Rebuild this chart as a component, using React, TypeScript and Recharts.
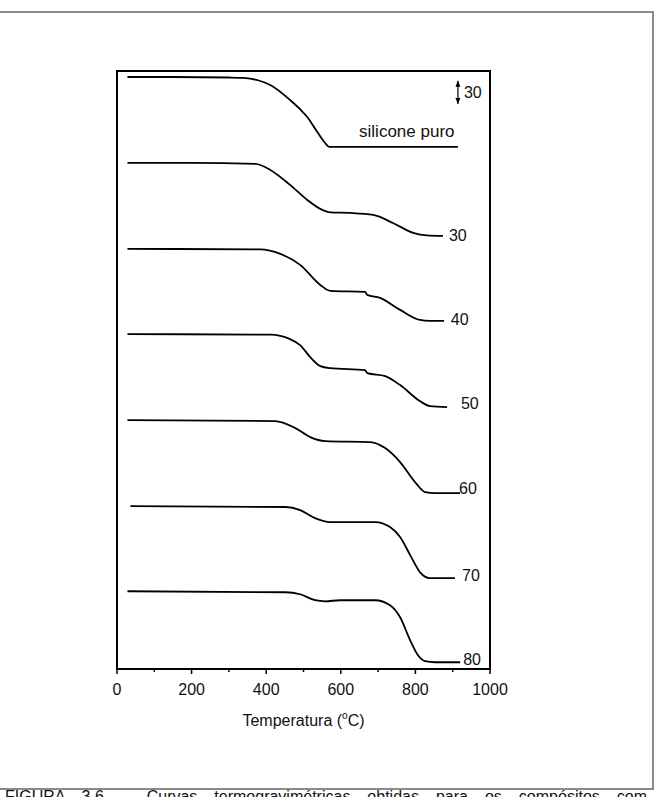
import React from 'react';
import { LineChart, Line, XAxis, YAxis, ReferenceArea, ReferenceDot } from 'recharts';

// temperaturas (°C) e perda de massa (%), uma curva por amostra
const tPuro = [28, 150, 300, 340, 380, 411, 464, 490, 510, 537, 558, 569, 590, 914];
const mPuro = [100, 100, 99.3, 98.7, 95.3, 89.3, 69.2, 57.2, 46.5, 26.4, 11.7, 6.4, 6.4, 6.4];

const t30 = [28, 200, 371, 411, 464, 510, 545, 572, 625, 687, 740, 794, 831, 874];
const m30 = [100, 100, 98.7, 90.6, 70.6, 50.5, 38.5, 33.8, 33.1, 30.4, 19.7, 6.4, 3.0, 2.3];

const t40 = [28, 384, 438, 491, 545, 572, 665, 671, 705, 759, 812, 839, 877];
const m40 = [100, 99.3, 93.3, 78.6, 51.8, 43.8, 42.5, 38.5, 34.5, 18.4, 5.0, 3.7, 3.7];

const t50 = [28, 411, 464, 491, 518, 545, 572, 665, 671, 719, 759, 812, 839, 885];
const m50 = [100, 99.3, 93.3, 85.3, 69.2, 57.2, 54.5, 51.8, 47.8, 43.8, 31.8, 10.4, 3.7, 2.3];

const t60 = [28, 424, 478, 518, 558, 679, 719, 759, 799, 826, 853, 920];
const m60 = [100, 98.7, 89.3, 77.3, 71.9, 70.6, 62.5, 43.8, 17.1, 3.7, 2.3, 2.3];

const t70 = [36, 451, 491, 531, 572, 692, 732, 759, 786, 812, 839, 906];
const m70 = [100, 98.7, 94.6, 83.9, 78.6, 78.6, 71.9, 58.5, 34.4, 11.7, 3.7, 3.7];

const t80 = [28, 451, 491, 531, 558, 598, 692, 732, 759, 786, 807, 826, 853, 920];
const m80 = [100, 98.7, 96.0, 88.0, 86.6, 88.0, 88.0, 81.3, 65.2, 34.4, 14.3, 6.4, 5.0, 5.0];

// deslocamento vertical de cada curva (unidades do eixo)
const offsets = [792, 677, 562, 448, 333, 218, 104];
const temps = [tPuro, t30, t40, t50, t60, t70, t80];
const masses = [mPuro, m30, m40, m50, m60, m70, m80];

// rótulos das curvas e barra de escala
const labelText = ['silicone puro', '30', '40', '50', '60', '70', '80', '30'];
const labelT = [649, 890, 895, 922, 917, 925, 928, 930];
const labelV = [712, 573, 460, 348, 234, 118, 5, 764];
const labelSize = [17, 16, 16, 16, 16, 16, 16, 16];

const scaleBar = [{ t: 914, v: 756 }, { t: 914, v: 787 }];

const xTicks = [0, 100, 200, 300, 400, 500, 600, 700, 800, 900, 1000];

const FONT = 'Liberation Sans, Arial, sans-serif';

const series = temps.map((ts, i) =>
  ts.map((t, j) => ({ t, v: offsets[i] + masses[i][j] - 100 }))
);

const Tick = (props: any) => {
  const { x, y, payload } = props;
  const major = payload.value % 200 === 0;
  return (
    <g>
      <line x1={x} y1={y} x2={x} y2={y + (major ? 5 : 3)} stroke="#000" strokeWidth={1.5} />
      {major && (
        <text x={x} y={y + 26} textAnchor="middle" fontSize={16} fontFamily={FONT} fill="#111">
          {payload.value}
        </text>
      )}
    </g>
  );
};

const ArrowHead = (props: any) => {
  const { cx, cy, index } = props;
  const d = index === 0 ? 1 : -1; // 0 = baixo, 1 = cima
  return (
    <path
      key={'h' + index}
      d={`M${cx - 2.5},${cy - 6 * d} L${cx + 2.5},${cy - 6 * d} L${cx},${cy} Z`}
      fill="#000"
    />
  );
};

const App: React.FC = () => {
  return (
    <div style={{ position: 'absolute', left: 0, top: 0, width: 654, height: 797, overflow: 'hidden', background: '#fff' }}>
      {/* moldura da página */}
      <div style={{ position: 'absolute', left: -10, top: 11, width: 660, height: 775, border: '2px solid #8a8a8a' }} />

      <div style={{ position: 'absolute', left: 0, top: 0 }}>
        <LineChart width={654} height={797} margin={{ top: 71, right: 164, bottom: 98, left: 117 }}>
          <XAxis
            dataKey="t"
            type="number"
            domain={[0, 1000]}
            ticks={xTicks}
            interval={0}
            height={30}
            tickSize={0}
            tickMargin={0}
            tickLine={false}
            axisLine={false}
            tick={<Tick />}
            allowDuplicatedCategory={false}
            label={{
              content: (p: any) => {
                const vb = p.viewBox;
                return (
                  <text x={vb.x + vb.width / 2} y={vb.y + 57} textAnchor="middle" fontSize={16} fontFamily={FONT} fill="#111">
                    Temperatura (
                    <tspan fontSize={10} dy={-7}>o</tspan>
                    <tspan dy={7}>C)</tspan>
                  </text>
                );
              }
            }}
          />
          <YAxis
            type="number"
            domain={[0, 800]}
            width={0}
            tick={false}
            tickLine={false}
            axisLine={false}
            label={{
              content: () => (
                <text
                  x={67}
                  y={363}
                  transform="rotate(-90, 67, 363)"
                  textAnchor="middle"
                  dominantBaseline="central"
                  fontSize={16}
                  fontFamily={FONT}
                  fill="#111"
                >
                  Perda de Massa
                </text>
              )
            }}
          />
          <ReferenceArea x1={0} x2={1000} y1={0} y2={800} fill="none" stroke="#000" strokeWidth={2} ifOverflow="visible" />

          {series.map((d, i) => (
            <Line
              key={i}
              data={d}
              dataKey="v"
              type="monotone"
              stroke="#000"
              strokeWidth={1.8}
              dot={false}
              isAnimationActive={false}
            />
          ))}

          <Line
            data={scaleBar}
            dataKey="v"
            stroke="#000"
            strokeWidth={1.2}
            dot={<ArrowHead />}
            isAnimationActive={false}
          />

          {labelText.map((s, i) => (
            <ReferenceDot
              key={'l' + i}
              x={labelT[i]}
              y={labelV[i]}
              r={0}
              fill="none"
              stroke="none"
              label={{
                content: (p: any) => (
                  <text x={p.viewBox.x} y={p.viewBox.y} fontSize={labelSize[i]} fontFamily={FONT} fill="#111">
                    {s}
                  </text>
                )
              }}
            />
          ))}
        </LineChart>
      </div>

      <div
        style={{
          position: 'absolute',
          left: 5,
          top: 788,
          width: 642,
          fontSize: 16,
          fontFamily: FONT,
          color: '#111',
          textAlign: 'justify',
          textAlignLast: 'justify'
        }}
      >
        FIGURA 3.6 – Curvas termogravimétricas obtidas para os compósitos com
      </div>
    </div>
  );
};

export default App;
